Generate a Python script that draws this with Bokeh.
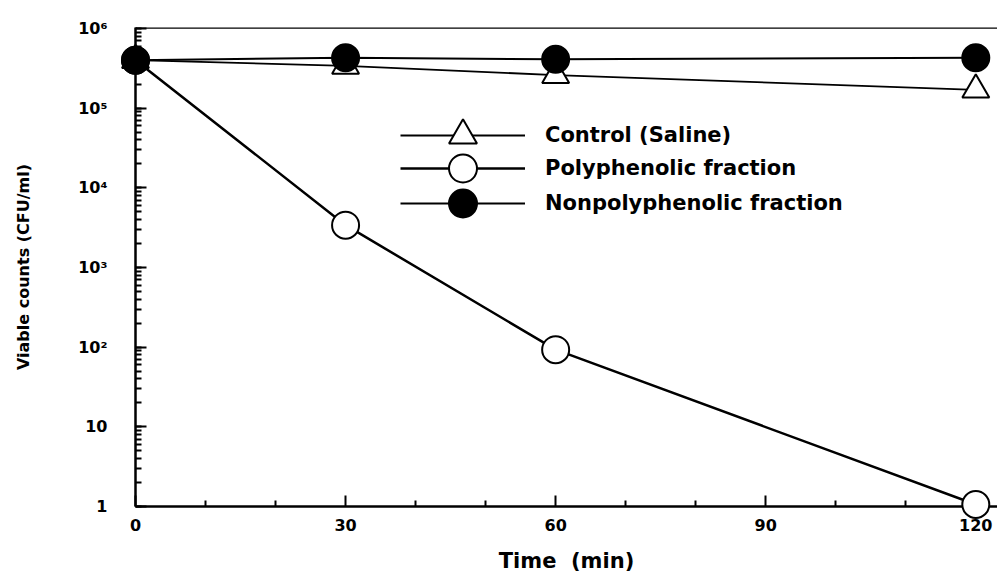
from bokeh.plotting import figure
from bokeh.models import FixedTicker, Span, Legend, LegendItem, LogTicker
from bokeh.embed import file_html
from bokeh.resources import INLINE

time = [0, 30, 60, 120]
control = [4.0e5, 3.4e5, 2.6e5, 1.7e5]
polyphenolic = [4.0e5, 3.4e3, 93, 1.06]
nonpolyphenolic = [4.0e5, 4.3e5, 4.1e5, 4.3e5]

x_ticks = [0, 30, 60, 90, 120]
x_minor = [10, 20, 40, 50, 70, 80, 100, 110]
y_tick_labels = {1: "1", 10: "10", 100: "10²", 1000: "10³", 10000: "10⁴",
                 100000: "10⁵", 1000000: "10⁶"}
series_labels = ["Control (Saline)", "Polyphenolic fraction", "Nonpolyphenolic fraction"]

FONT = "DejaVu Sans"

p = figure(width=997, height=576, output_backend="svg", toolbar_location=None,
           y_axis_type="log", x_range=(0, 123.1), y_range=(1, 1.03e6),
           min_border_left=135, min_border_right=0, min_border_top=27,
           min_border_bottom=70)
p.outline_line_color = None
p.grid.visible = False
p.background_fill_color = "white"

# axes
p.xaxis.ticker = FixedTicker(ticks=x_ticks, minor_ticks=x_minor)
p.yaxis.ticker = LogTicker(desired_num_ticks=7, num_minor_ticks=10)
p.yaxis.major_label_overrides = y_tick_labels
for ax in (p.xaxis[0], p.yaxis[0]):
    ax.axis_line_width = 2.5
    ax.axis_line_color = "black"
    ax.major_tick_in = 11
    ax.major_tick_out = 0
    ax.minor_tick_in = 6
    ax.minor_tick_out = 0
    ax.major_tick_line_width = 2
    ax.minor_tick_line_width = 2
    ax.major_tick_line_color = "black"
    ax.minor_tick_line_color = "black"
    ax.major_label_text_font = FONT
    ax.major_label_text_font_style = "bold"
    ax.major_label_text_font_size = "16px"
    ax.major_label_text_color = "black"
    ax.axis_label_text_font = FONT
    ax.axis_label_text_font_style = "bold"
    ax.axis_label_text_color = "black"
p.xaxis.major_label_standoff = 12
p.yaxis.major_label_standoff = 28
p.xaxis.axis_label = "Time\u00a0 (min)"
p.yaxis.axis_label = "Viable counts (CFU/ml)"
p.xaxis.axis_label_text_font_size = "21px"
p.yaxis.axis_label_text_font_size = "16px"
p.xaxis.axis_label_standoff = 15
p.yaxis.axis_label_standoff = 42

top = Span(location=1.03e6, dimension="width", line_color="black", line_width=2.5)
p.add_layout(top)

# series
l1 = p.line(time, control, line_color="black", line_width=1.8)
m1 = p.scatter(time, control, marker="triangle", size=27, fill_color="white",
               line_color="black", line_width=2, level="overlay")
l2 = p.line(time, polyphenolic, line_color="black", line_width=2.5)
m2 = p.scatter(time, polyphenolic, marker="circle", size=27, fill_color="white",
               line_color="black", line_width=2, level="overlay")
l3 = p.line(time, nonpolyphenolic, line_color="black", line_width=2)
m3 = p.scatter(time, nonpolyphenolic, marker="circle", size=27, fill_color="black",
               line_color="black", line_width=2, level="overlay")

# one legend per row so the rows can sit closer than the big legend markers
legend_rows = [(series_labels[0], [l1, m1], 336),
               (series_labels[1], [l2, m2], 303),
               (series_labels[2], [l3, m3], 268)]
for label, rends, ybottom in legend_rows:
    lg = Legend(items=[LegendItem(label=label, renderers=rends)],
                location=(265, ybottom), glyph_width=125, glyph_height=70,
                padding=0, margin=0, spacing=0, label_standoff=20,
                label_text_font=FONT, label_text_font_style="bold",
                label_text_font_size="21px", label_text_color="black",
                border_line_color=None, background_fill_alpha=0)
    p.add_layout(lg)

open("out.html", "w").write(file_html(p, INLINE))
